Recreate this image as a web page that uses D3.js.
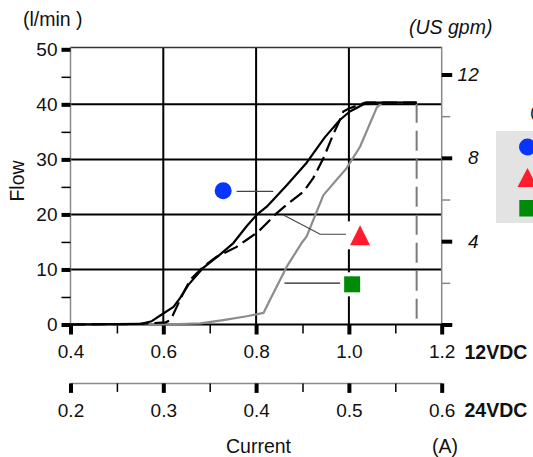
<!DOCTYPE html>
<html><head><meta charset="utf-8">
<script src="https://cdn.jsdelivr.net/npm/d3@7"></script>
<style>
html,body{margin:0;padding:0;background:#fff;overflow:hidden}
svg{display:block}
text{font-family:"Liberation Sans",Arial,Helvetica,sans-serif;fill:#111}
</style></head>
<body>
<svg id="chart" width="533" height="457"></svg>
<script>
// ---------- data ----------
const flowTicks = [0, 10, 20, 30, 40, 50];
const flowMinorTicks = [5, 15, 25, 35, 45];
const gpmTicks = [0, 4, 8, 12];
const gpmMinorTicks = [2, 6, 10];
const current12Ticks = [0.4, 0.6, 0.8, 1.0, 1.2];
const current12MinorTicks = [0.5, 0.7, 0.9, 1.1];
const current24Ticks = [0.2, 0.3, 0.4, 0.5, 0.6];
const current24MinorTicks = [0.25, 0.35, 0.45, 0.55];
const gridCurrent = [0.6, 0.8, 1.0];
const gridFlow = [10, 20, 30, 40];

// series: [current (A, 12VDC), flow (l/min)]
const seriesSolid = [[0.40,0],[0.55,0.1],[0.575,0.6],[0.60,2.0],[0.622,3.2],[0.636,4.8],[0.654,7.2],[0.686,10.3],[0.722,12.7],[0.751,14.8],[0.780,17.9],[0.801,19.9],[0.823,21.4],[0.844,23.3],[0.866,25.3],[0.909,29.4],[0.948,34.0],[0.981,37.2],[1.002,38.7],[1.038,40.3],[1.146,40.3]];
const seriesDashed = [[0.40,0],[0.55,0.1],[0.605,0.4],[0.615,0.8],[0.620,1.6],[0.629,3.2],[0.643,5.7],[0.658,8.1],[0.686,10.5],[0.715,12.3],[0.758,14.1],[0.780,15.4],[0.805,16.9],[0.823,18.4],[0.844,20.2],[0.869,22.0],[0.902,24.1],[0.923,26.6],[0.945,30.2],[0.966,34.5],[0.984,37.8],[0.988,38.7],[0.999,39.2],[1.035,40.3],[1.146,40.3]];
const seriesGray = [[0.40,0],[0.60,0],[0.68,0.2],[0.729,0.8],[0.78,1.5],[0.816,2.1],[0.83,4.5],[0.859,9.3],[0.866,10.5],[0.898,14.8],[0.909,16.0],[0.945,23.5],[0.995,28.4],[1.024,32.3],[1.060,39.4],[1.071,40.3],[1.146,40.3]];
const limitLine = [[1.146,40.3],[1.146,0]];

// annotation markers [current, flow] and leader lines
const circleMark = [0.729, 24.3];
const circleLeader = [[0.758,24.2],[0.837,24.2]];
const triangleMark = [1.024, 16.2];
const triangleLeader = [[0.859,19.9],[0.938,16.4],[0.995,16.4]];
const squareMark = [1.007, 7.3];
const squareLeader = [[0.861,7.5],[0.982,7.5]];

const markerColors = {circle:"#0535ff", triangle:"#ff1c2c", square:"#008a0a"};

// ---------- scales ----------
const L = 70.5, R = 441.7, B = 324.5, T = 49.3;
const x = d3.scaleLinear().domain([0.4, 1.2]).range([L, R]);
const x24 = d3.scaleLinear().domain([0.2, 0.6]).range([L, R]);
const y = d3.scaleLinear().domain([0, 50]).range([B, T]);
const yG = d3.scaleLinear().domain([0, 50/3.785]).range([B, T]);

const svg = d3.select("#chart");

// grid
const grid = svg.append("g");
grid.selectAll("line.v").data(gridCurrent).join("line")
  .attr("x1", d=>x(d)).attr("x2", d=>x(d)).attr("y1", T-1.5).attr("y2", B)
  .attr("stroke","#000").attr("stroke-width",2);
grid.selectAll("line.h").data(gridFlow).join("line")
  .attr("x1", L).attr("x2", R).attr("y1", d=>y(d)).attr("y2", d=>y(d))
  .attr("stroke","#000").attr("stroke-width",2);

// frame
svg.append("line").attr("x1",L).attr("x2",R).attr("y1",T-1.8).attr("y2",T-1.8).attr("stroke","#333").attr("stroke-width",1.5);
svg.append("line").attr("x1",L).attr("x2",L).attr("y1",T-2.5).attr("y2",B).attr("stroke","#8a8a8a").attr("stroke-width",1.5);
svg.append("line").attr("x1",R).attr("x2",R).attr("y1",T-2.5).attr("y2",B).attr("stroke","#8a8a8a").attr("stroke-width",1.5);

function styleAxis(g, w, color, fontSize, italic){
  g.select(".domain").remove();
  g.attr("font-family",null).attr("font-size",null);
  g.selectAll(".tick line").attr("stroke",color).attr("stroke-width",w);
  g.selectAll(".tick text").attr("fill","#111").style("font-size",fontSize+"px")
    .style("font-style", italic ? "italic" : "normal");
}

// left axis
const gl = svg.append("g").attr("transform",`translate(${L},0)`)
  .call(d3.axisLeft(y).tickValues(flowTicks).tickSize(9).tickPadding(4).tickFormat(d3.format("d")));
styleAxis(gl, 4, "#000", 19);
const glm = svg.append("g").attr("transform",`translate(${L},0)`)
  .call(d3.axisLeft(y).tickValues(flowMinorTicks).tickSize(9).tickFormat(""));
styleAxis(glm, 1.5, "#000", 19);

// right axis (US gpm)
const gr = svg.append("g").attr("transform",`translate(${R},0)`)
  .call(d3.axisRight(yG).tickValues(gpmTicks).tickSize(10.5).tickFormat(d => d===0 ? "" : d));
styleAxis(gr, 4, "#000", 19, true);
gr.selectAll(".tick text").attr("text-anchor","end").attr("x",37);
const grm = svg.append("g").attr("transform",`translate(${R},0)`)
  .call(d3.axisRight(yG).tickValues(gpmMinorTicks).tickSize(8.5).tickFormat(""));
styleAxis(grm, 1.5, "#888", 19);

// bottom axis 12VDC
svg.append("line").attr("x1",L).attr("x2",R+10.5).attr("y1",B).attr("y2",B).attr("stroke","#000").attr("stroke-width",2);
const gb = svg.append("g").attr("transform",`translate(0,${B})`)
  .call(d3.axisBottom(x).tickValues(current12Ticks).tickSize(10).tickPadding(10).tickFormat(d3.format(".1f")));
styleAxis(gb, 4, "#000", 19);
const gbm = svg.append("g").attr("transform",`translate(0,${B})`)
  .call(d3.axisBottom(x).tickValues(current12MinorTicks).tickSize(9).tickFormat(""));
styleAxis(gbm, 1.5, "#000", 19);

// second axis 24VDC
const B2 = 383.4;
svg.append("line").attr("x1",L).attr("x2",R).attr("y1",B2).attr("y2",B2).attr("stroke","#8a8a8a").attr("stroke-width",1.5);
const gb2 = svg.append("g").attr("transform",`translate(0,${B2})`)
  .call(d3.axisBottom(x24).tickValues(current24Ticks).tickSize(9.5).tickPadding(10.5).tickFormat(d3.format(".1f")));
styleAxis(gb2, 4, "#000", 19);
const gb2m = svg.append("g").attr("transform",`translate(0,${B2})`)
  .call(d3.axisBottom(x24).tickValues(current24MinorTicks).tickSize(8.5).tickFormat(""));
styleAxis(gb2m, 1.5, "#000", 19);

// curves
const line = d3.line().x(d=>x(d[0])).y(d=>y(d[1]));
svg.append("path").datum(limitLine).attr("d",line).attr("fill","none")
  .attr("stroke","#7a7a7a").attr("stroke-width",2).attr("stroke-dasharray","20,8");
svg.append("path").datum(seriesGray).attr("d",line).attr("fill","none")
  .attr("stroke","#8c8c8c").attr("stroke-width",2.2).attr("stroke-linejoin","round");
svg.append("path").datum(seriesDashed).attr("d",line).attr("fill","none")
  .attr("stroke","#000").attr("stroke-width",2.2).attr("stroke-dasharray","15,6");
svg.append("path").datum(seriesSolid).attr("d",line).attr("fill","none")
  .attr("stroke","#000").attr("stroke-width",2.2).attr("stroke-linejoin","round");

// leaders
svg.append("path").datum(circleLeader).attr("d",line).attr("fill","none").attr("stroke","#444").attr("stroke-width",1.2);
svg.append("path").datum(triangleLeader).attr("d",line).attr("fill","none").attr("stroke","#444").attr("stroke-width",1.2);
svg.append("path").datum(squareLeader).attr("d",line).attr("fill","none").attr("stroke","#222").attr("stroke-width",1.2);

// markers
svg.append("circle").attr("cx",x(circleMark[0])).attr("cy",y(circleMark[1])).attr("r",8.5).attr("fill",markerColors.circle);
const tx = x(triangleMark[0]), ty = y(triangleMark[1]);
svg.append("rect").attr("x",tx-14).attr("y",ty-14).attr("width",28).attr("height",28).attr("fill","#fff");
svg.append("path").attr("d",`M${tx},${ty-10}L${tx+10},${ty+10}L${tx-10},${ty+10}Z`).attr("fill",markerColors.triangle);
const sx = x(squareMark[0]), sy = y(squareMark[1]);
svg.append("rect").attr("x",sx-12).attr("y",sy-12).attr("width",24).attr("height",24).attr("fill","#fff");
svg.append("rect").attr("x",sx-8).attr("y",sy-8).attr("width",16).attr("height",16).attr("fill",markerColors.square);

// titles
svg.append("text").attr("x",23).attr("y",26).style("font-size","19.5px").text("(l/min )");
svg.append("text").attr("x",409).attr("y",34).style("font-size","19.5px").style("font-style","italic").text("(US gpm)");
svg.append("text").attr("transform","translate(24,181) rotate(-90)").attr("text-anchor","middle").style("font-size","19.5px").text("Flow");
svg.append("text").attr("x",258.5).attr("y",453).attr("text-anchor","middle").style("font-size","19.5px").text("Current");
svg.append("text").attr("x",445).attr("y",453).attr("text-anchor","middle").style("font-size","19.5px").text("(A)");
svg.append("text").attr("x",464.5).attr("y",358.5).style("font-size","19.5px").style("font-weight","bold").text("12VDC");
svg.append("text").attr("x",464.5).attr("y",417.4).style("font-size","19.5px").style("font-weight","bold").text("24VDC");

// legend (partially off-canvas)
const lg = svg.append("g");
lg.append("rect").attr("x",496).attr("y",131).attr("width",60).attr("height",92).attr("fill","#e3e3e3");
lg.append("text").attr("x",530).attr("y",118).style("font-size","17px").text("(");
lg.append("circle").attr("cx",527.5).attr("cy",147).attr("r",8.5).attr("fill",markerColors.circle);
lg.append("path").attr("d","M527.5,168L537.5,187L517.5,187Z").attr("fill",markerColors.triangle);
lg.append("rect").attr("x",519.3).attr("y",200).attr("width",16.5).attr("height",16.5).attr("fill",markerColors.square);
</script>
</body></html>
